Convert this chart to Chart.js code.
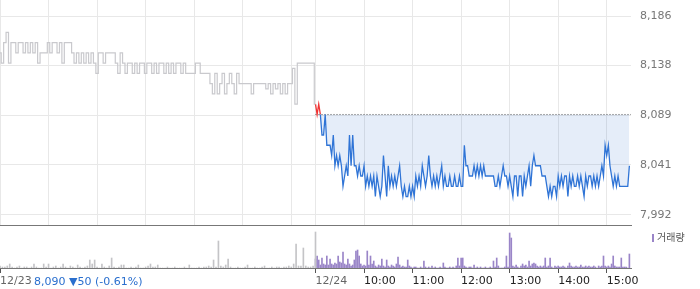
<!DOCTYPE html>
<html lang="ko">
<head>
<meta charset="utf-8">
<title>12/24 시세</title>
<script src="https://cdn.jsdelivr.net/npm/chart.js@4.4.1/dist/chart.umd.min.js"></script>
<style>
  html, body { margin: 0; padding: 0; background: #fff; }
  #wrap { position: relative; width: 700px; height: 289px; overflow: hidden; font-family: "DejaVu Sans", sans-serif; }
  #priceChart { position: absolute; left: 0; top: 0; }
  #volumeChart { position: absolute; left: 0; top: 226px; }
  #change { position: absolute; left: 34px; top: 275px; font-size: 11px; line-height: 13px; color: #2a6fce; white-space: nowrap; }
  #volLegend { position: absolute; left: 652px; top: 231px; font: 10px "Noto Sans CJK KR", sans-serif; line-height: 12px; color: #555; }
  #volLegend i { display: inline-block; width: 2px; height: 8px; background: #9a85c8; margin-right: 3px; vertical-align: -1px; }
</style>
</head>
<body>
<div id="wrap">
  <canvas id="priceChart" width="700" height="226"></canvas>
  <canvas id="volumeChart" width="700" height="63"></canvas>
  <div id="change"></div>
  <div id="volLegend"><i></i>거래량</div>
</div>
<script>
// --- Data ---
const prevDayLabel = '12/23';
const todayLabel = '12/24';
const hourLabels = ['10:00', '11:00', '12:00', '13:00', '14:00', '15:00'];
const priceTicks = [7992, 8041, 8089, 8138, 8186];
const basePrice = 8090;
const lastPrice = 8090;
const priceChange = -50;
const changePct = -0.61;

const prevStep = 3;   // minutes between samples, 12/23 from 09:00
const todayStep = 2;  // minutes between samples, 12/24 from 09:00

const prevPrice = [
  8150, 8140, 8160, 8170, 8140, 8160, 8160, 8150, 8160, 8160,
  8150, 8160, 8150, 8160, 8150, 8160, 8140, 8150, 8150, 8150,
  8160, 8150, 8160, 8160, 8150, 8160, 8140, 8160, 8160, 8160,
  8150, 8140, 8150, 8140, 8150, 8140, 8150, 8140, 8150, 8140,
  8130, 8150, 8150, 8140, 8150, 8150, 8150, 8150, 8140, 8130,
  8150, 8140, 8130, 8140, 8140, 8130, 8140, 8130, 8140, 8140,
  8130, 8140, 8140, 8130, 8140, 8130, 8140, 8140, 8130, 8140,
  8130, 8140, 8130, 8140, 8140, 8130, 8140, 8130, 8130, 8130,
  8130, 8140, 8140, 8130, 8130, 8130, 8130, 8120, 8110, 8130,
  8110, 8120, 8130, 8110, 8120, 8130, 8120, 8110, 8130, 8120,
  8120, 8120, 8120, 8120, 8110, 8120, 8120, 8120, 8120, 8120,
  8115, 8120, 8110, 8120, 8115, 8120, 8110, 8120, 8110, 8120,
  8120, 8135, 8100, 8140, 8140, 8140, 8140, 8140, 8140, 8140,
  8100
];

const todayPrice = [
  8100, 8090, 8100, 8090, 8070, 8070, 8090, 8060, 8060, 8060,
  8050, 8070, 8040, 8050, 8040, 8050, 8040, 8020, 8030, 8040,
  8030, 8070, 8040, 8070, 8040, 8040, 8030, 8040, 8030, 8030,
  8040, 8020, 8030, 8020, 8030, 8020, 8030, 8010, 8030, 8020,
  8010, 8020, 8050, 8030, 8010, 8040, 8020, 8030, 8020, 8030,
  8020, 8030, 8040, 8020, 8010, 8020, 8010, 8010, 8020, 8010,
  8020, 8010, 8030, 8020, 8030, 8020, 8040, 8030, 8020, 8030,
  8050, 8030, 8020, 8030, 8020, 8030, 8020, 8030, 8040, 8020,
  8030, 8020, 8020, 8030, 8020, 8020, 8030, 8020, 8020, 8030,
  8020, 8020, 8060, 8040, 8040, 8030, 8030, 8030, 8040, 8030,
  8040, 8030, 8040, 8030, 8040, 8030, 8030, 8030, 8030, 8030,
  8030, 8020, 8020, 8030, 8020, 8030, 8040, 8030, 8030, 8020,
  8030, 8020, 8010, 8030, 8030, 8010, 8030, 8030, 8010, 8030,
  8020, 8030, 8040, 8020, 8040, 8050, 8040, 8040, 8040, 8040,
  8030, 8030, 8030, 8020, 8010, 8020, 8010, 8020, 8020, 8010,
  8030, 8020, 8030, 8020, 8030, 8030, 8010, 8030, 8020, 8030,
  8020, 8020, 8030, 8020, 8030, 8020, 8010, 8030, 8020, 8030,
  8030, 8020, 8030, 8020, 8030, 8020, 8030, 8040, 8030, 8060,
  8050, 8060, 8040, 8030, 8020, 8030, 8020, 8030, 8020, 8020,
  8020, 8020, 8020, 8020, 8040
];

const prevVolume = [
  2, 1, 1, 2, 4, 1, 0, 1, 2, 0,
  1, 1, 0, 1, 4, 1, 0, 0, 4, 1,
  4, 0, 1, 2, 0, 1, 4, 1, 0, 2,
  1, 0, 3, 1, 0, 1, 2, 8, 4, 8,
  1, 0, 4, 1, 0, 2, 10, 1, 0, 1,
  3, 3, 0, 0, 1, 0, 1, 3, 0, 0,
  1, 2, 4, 1, 1, 3, 0, 0, 0, 1,
  0, 0, 1, 0, 0, 0, 1, 0, 3, 0,
  0, 0, 1, 0, 1, 1, 2, 1, 8, 1,
  27, 2, 1, 3, 9, 1, 0, 0, 1, 0,
  0, 1, 3, 0, 0, 1, 0, 0, 1, 2,
  0, 0, 1, 0, 1, 1, 0, 1, 1, 2,
  1, 4, 24, 2, 2, 20, 2, 1, 1, 2,
  36
];

const todayVolume = [
  9, 12, 8, 3, 10, 4, 3, 12, 3, 9,
  4, 3, 5, 4, 12, 6, 5, 16, 4, 3,
  9, 4, 2, 3, 8, 17, 18, 12, 4, 2,
  3, 2, 17, 3, 12, 4, 7, 2, 1, 3,
  2, 9, 2, 1, 8, 2, 1, 3, 2, 1,
  4, 11, 3, 1, 2, 1, 1, 8, 2, 1,
  0, 1, 1, 0, 0, 1, 0, 7, 1, 0,
  1, 0, 2, 0, 1, 0, 0, 1, 0, 5,
  1, 0, 0, 1, 0, 1, 0, 2, 10, 2,
  10, 10, 2, 1, 0, 1, 1, 0, 3, 0,
  1, 0, 1, 0, 0, 1, 0, 0, 1, 0,
  7, 1, 10, 2, 0, 0, 0, 1, 12, 1,
  35, 30, 2, 1, 3, 1, 0, 2, 4, 2,
  3, 1, 7, 2, 4, 5, 4, 2, 1, 2,
  1, 2, 10, 1, 2, 10, 1, 0, 2, 1,
  2, 1, 1, 2, 1, 0, 2, 5, 2, 1,
  1, 2, 1, 1, 3, 1, 1, 2, 1, 2,
  1, 1, 2, 1, 0, 2, 1, 2, 12, 2,
  1, 2, 1, 4, 12, 2, 1, 1, 1, 10,
  1, 1, 1, 0, 14
];

// --- Time axis: minutes since 12/23 09:00, one session = 390 min ---
const SESSION = 390;
const prevTimes = prevPrice.map((_, i) => i * prevStep);
const todayTimes = todayPrice.map((_, i) => SESSION + i * todayStep);

const gridTicks = [0, 60, 120, 180, 240, 300, 360, 390, 450, 510, 570, 630, 690, 750];
const labelTicks = [0, 390, 450, 510, 570, 630, 690, 750];
const labelNames = [prevDayLabel, todayLabel, ...hourLabels];

const fmt = v => Number(v).toLocaleString('en-US');
const toPoints = (times, values) => values.map((v, i) => ({ x: times[i], y: v }));

// labels may hang over the plot edge, don't let them shrink it
const noPadding = s => { s.paddingTop = 0; s.paddingBottom = 0; s.paddingLeft = 0; s.paddingRight = 0; };

const BLUE = '#2f74d6';
const RED = '#f03333';
const axisFont = { family: 'DejaVu Sans', size: 11 };

document.getElementById('change').textContent =
    `${fmt(lastPrice)} ${priceChange < 0 ? '▼' : '▲'}${Math.abs(priceChange)} (${changePct.toFixed(2)}%)`;

// --- Price panel ---
new Chart(document.getElementById('priceChart'), {
    type: 'line',
    data: {
        datasets: [
            {
                data: toPoints(prevTimes, prevPrice),
                borderColor: '#c9c9cd',
                borderWidth: 1.2,
                stepped: 'middle',
                pointRadius: 0,
                fill: false
            },
            {
                data: toPoints(todayTimes, todayPrice),
                borderColor: BLUE,
                borderWidth: 1.3,
                pointRadius: 0,
                segment: {
                    borderColor: c => (c.p0.parsed.y > basePrice || c.p1.parsed.y > basePrice) ? RED : BLUE
                },
                fill: { target: { value: basePrice }, above: 'rgba(0,0,0,0)', below: 'rgba(38,105,205,0.12)' }
            },
            {
                data: [{ x: SESSION, y: basePrice }, { x: 2 * SESSION, y: basePrice }],
                borderColor: '#555',
                borderWidth: 1,
                borderDash: [1, 2],
                pointRadius: 0,
                fill: false
            }
        ]
    },
    options: {
        responsive: false,
        animation: false,
        events: [],
        layout: { padding: 0, autoPadding: false },
        plugins: { legend: { display: false }, tooltip: { enabled: false } },
        scales: {
            x: {
                type: 'linear',
                min: 0,
                max: 2 * SESSION,
                afterBuildTicks: s => { s.ticks = gridTicks.map(v => ({ value: v })); },
                afterFit: s => { s.height = 1; noPadding(s); },
                ticks: { display: false },
                grid: { color: '#e8e8e8', drawTicks: false },
                border: { color: '#777' }
            },
            y: {
                position: 'right',
                min: 7982.25,
                max: 8201.6,
                afterBuildTicks: s => { s.ticks = priceTicks.map(v => ({ value: v })); },
                afterFit: s => { s.width = 69; noPadding(s); },
                ticks: { padding: 9, color: '#777', font: axisFont, callback: v => fmt(v) },
                grid: { color: '#e8e8e8', drawTicks: false },
                border: { display: false }
            }
        }
    }
});

// --- Volume panel ---
new Chart(document.getElementById('volumeChart'), {
    type: 'bar',
    data: {
        datasets: [
            { data: toPoints(prevTimes, prevVolume), backgroundColor: '#c4c4c7', barThickness: 1, grouped: false },
            { data: toPoints(todayTimes, todayVolume), backgroundColor: '#9a85c8', barThickness: 1, grouped: false }
        ]
    },
    options: {
        responsive: false,
        animation: false,
        events: [],
        layout: { padding: { right: 69 }, autoPadding: false },
        plugins: { legend: { display: false }, tooltip: { enabled: false } },
        scales: {
            x: {
                type: 'linear',
                min: 0,
                max: 2 * SESSION,
                offset: false,
                afterBuildTicks: s => { s.ticks = labelTicks.map(v => ({ value: v })); },
                afterFit: s => { s.height = 21; noPadding(s); },
                ticks: {
                    autoSkip: false,
                    maxRotation: 0,
                    align: 'start',
                    padding: 2,
                    font: axisFont,
                    color: c => c.index < 2 ? '#666' : '#222',
                    callback: (v, i) => labelNames[i]
                },
                grid: { offset: false, drawOnChartArea: false, tickLength: 5, tickColor: '#555' },
                border: { color: '#777' }
            },
            y: { display: false, min: 0, max: 42 }
        }
    }
});
</script>
</body>
</html>
